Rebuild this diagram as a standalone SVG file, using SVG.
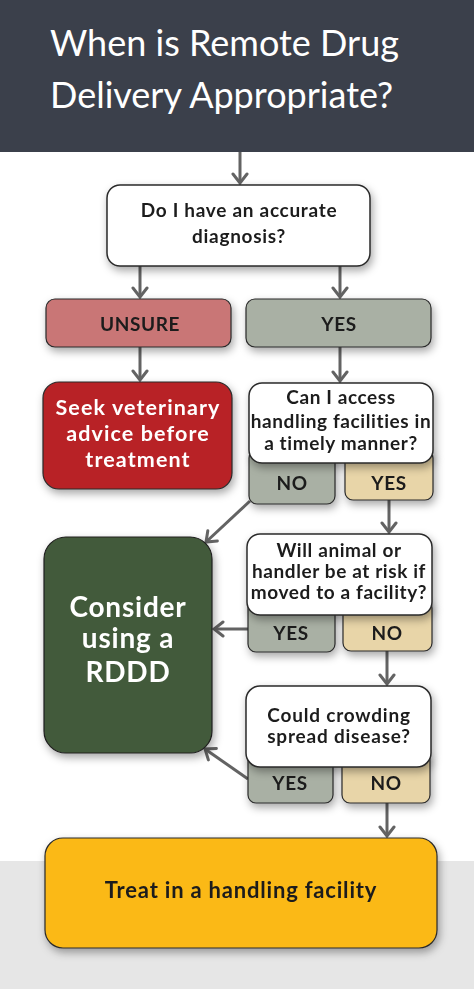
<svg xmlns="http://www.w3.org/2000/svg" width="474" height="989" viewBox="0 0 474 989">
<style>
.q{fill:#ffffff;stroke:#2a2a2a;stroke-width:1.5}
.g{fill:#a9b0a4;stroke:#2a2a2a;stroke-width:1.2}
.t{fill:#e8d5a8;stroke:#2a2a2a;stroke-width:1.2}
.lbl{font-family:Lato,"Liberation Sans",sans-serif;font-weight:700;fill:#1c1c1c;text-anchor:middle;letter-spacing:0.6px}
.wl{font-family:Lato,"Liberation Sans",sans-serif;font-weight:700;fill:#ffffff;text-anchor:middle;letter-spacing:0.6px}
.c{stroke:#636363;stroke-width:3;fill:none;marker-end:url(#ah)}
</style>
<defs>
<marker id="ah" markerUnits="userSpaceOnUse" viewBox="-12 -9 14 18" markerWidth="14" markerHeight="18" refX="0" refY="0" orient="auto">
<path d="M-9,-7 L0,0 L-9,7" fill="none" stroke="#636363" stroke-width="3" stroke-linecap="round" stroke-linejoin="miter"/>
</marker>
<filter id="sh" x="-20%" y="-20%" width="140%" height="150%">
<feDropShadow dx="2" dy="4" stdDeviation="4" flood-color="#000" flood-opacity="0.35"/>
</filter>
</defs>
<rect x="0" y="0" width="474" height="989" fill="#ffffff"/>
<rect x="0" y="861" width="474" height="128" fill="#e6e6e6"/>
<g id="header">
<rect x="0" y="0" width="474" height="152" fill="#3b404b"/>
<text x="50" y="56" font-family="Lato,'Liberation Sans',sans-serif" font-size="36" fill="#ffffff">When is Remote Drug</text>
<text x="50" y="108" font-family="Lato,'Liberation Sans',sans-serif" font-size="36" fill="#ffffff">Delivery Appropriate?</text>
</g>
<g id="connectors">
<line class="c" x1="240" y1="152" x2="240" y2="183"/>
<line class="c" x1="140" y1="266" x2="140" y2="297"/>
<line class="c" x1="340" y1="266" x2="340" y2="297"/>
<line class="c" x1="140" y1="347" x2="140" y2="380"/>
<line class="c" x1="340" y1="347" x2="340" y2="381"/>
<line class="c" x1="250" y1="501" x2="206" y2="542"/>
<line class="c" x1="389" y1="500" x2="389" y2="532"/>
<line class="c" x1="248" y1="629" x2="214" y2="629"/>
<line class="c" x1="387" y1="651" x2="387" y2="684"/>
<line class="c" x1="248" y1="779" x2="205" y2="749"/>
<line class="c" x1="387" y1="803" x2="387" y2="836"/>
</g>
<g id="q1" filter="url(#sh)">
<rect class="q" x="107" y="185" width="263" height="81" rx="13"/>
<text class="lbl" x="239" y="217" font-size="19" style="letter-spacing:0.7px">Do I have an accurate</text>
<text class="lbl" x="239" y="243" font-size="19" style="letter-spacing:0.7px">diagnosis?</text>
</g>
<g id="unsure" filter="url(#sh)">
<rect x="46" y="299" width="185" height="48" rx="9" fill="#c97676" stroke="#2a2a2a" stroke-width="1.2"/>
<text class="lbl" x="140" y="331" font-size="19">UNSURE</text>
</g>
<g id="yes1" filter="url(#sh)">
<rect class="g" x="246" y="299" width="185" height="48" rx="9"/>
<text class="lbl" x="339" y="331" font-size="19">YES</text>
</g>
<g id="seek" filter="url(#sh)">
<rect x="43" y="382" width="189" height="107" rx="16" fill="#b82226" stroke="#2a2a2a" stroke-width="1.2"/>
<text class="wl" x="138" y="415" font-size="21.5" style="letter-spacing:1.1px">Seek veterinary</text>
<text class="wl" x="138" y="441" font-size="21.5" style="letter-spacing:1.1px">advice before</text>
<text class="wl" x="138" y="467" font-size="21.5" style="letter-spacing:1.1px">treatment</text>
</g>
<g id="no2" filter="url(#sh)">
<rect class="g" x="249" y="450" width="86" height="54" rx="8"/>
<text class="lbl" x="292" y="490" font-size="19">NO</text>
</g>
<g id="yes2" filter="url(#sh)">
<rect class="t" x="345" y="450" width="88" height="50" rx="8"/>
<text class="lbl" x="389" y="490" font-size="19">YES</text>
</g>
<g id="q2" filter="url(#sh)">
<rect class="q" x="249" y="383" width="184" height="80" rx="13"/>
<text class="lbl" x="341" y="404" font-size="19">Can I access</text>
<text class="lbl" x="341" y="428" font-size="19">handling facilities in</text>
<text class="lbl" x="341" y="450" font-size="19">a timely manner?</text>
</g>
<g id="rddd" filter="url(#sh)">
<rect x="44" y="537" width="168" height="216" rx="22" fill="#435a3a" stroke="#1e1e1e" stroke-width="1.2"/>
<text class="wl" x="128" y="617" font-size="28" style="letter-spacing:0.8px">Consider</text>
<text class="wl" x="128" y="648" font-size="28" style="letter-spacing:0.8px">using a</text>
<text class="wl" x="128" y="682" font-size="28" style="letter-spacing:0.8px">RDDD</text>
</g>
<g id="yes3" filter="url(#sh)">
<rect class="g" x="248" y="600" width="87" height="52" rx="8"/>
<text class="lbl" x="291" y="640" font-size="19">YES</text>
</g>
<g id="no3" filter="url(#sh)">
<rect class="t" x="343" y="600" width="89" height="51" rx="8"/>
<text class="lbl" x="387" y="640" font-size="19">NO</text>
</g>
<g id="q3" filter="url(#sh)">
<rect class="q" x="247" y="534" width="185" height="81" rx="13"/>
<text class="lbl" x="339" y="557" font-size="19">Will animal or</text>
<text class="lbl" x="339" y="578" font-size="19">handler be at risk if</text>
<text class="lbl" x="339" y="599" font-size="19">moved to a facility?</text>
</g>
<g id="yes4" filter="url(#sh)">
<rect class="g" x="248" y="752" width="85" height="51" rx="8"/>
<text class="lbl" x="290" y="790" font-size="19">YES</text>
</g>
<g id="no4" filter="url(#sh)">
<rect class="t" x="342" y="752" width="88" height="51" rx="8"/>
<text class="lbl" x="386" y="790" font-size="19">NO</text>
</g>
<g id="q4" filter="url(#sh)">
<rect class="q" x="246" y="686" width="185" height="81" rx="14"/>
<text class="lbl" x="339" y="722" font-size="19" style="letter-spacing:0.8px">Could crowding</text>
<text class="lbl" x="339" y="743" font-size="19" style="letter-spacing:0.8px">spread disease?</text>
</g>
<g id="treat" filter="url(#sh)">
<rect x="45" y="838" width="392" height="110" rx="18" fill="#fbb917" stroke="#2a2a2a" stroke-width="1.2"/>
<text class="lbl" x="241" y="898" font-size="22" style="letter-spacing:0.8px">Treat in a handling facility</text>
</g>
</svg>
